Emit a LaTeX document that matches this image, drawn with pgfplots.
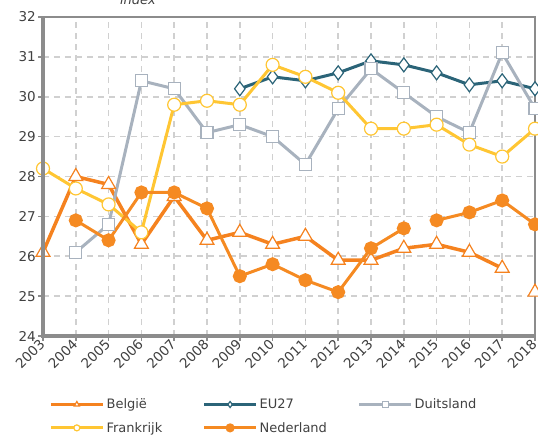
\documentclass[border=0pt]{standalone}
\usepackage{pgfplots}
\pgfplotsset{compat=1.18}
\usepackage{fontspec}
\setmainfont{DejaVu Sans}
\definecolor{cBE}{HTML}{F5821F}
\definecolor{cNL}{HTML}{F58A22}
\definecolor{cEU}{HTML}{2B6478}
\definecolor{cDE}{HTML}{A8B2BE}
\definecolor{cFR}{HTML}{FFC633}
\definecolor{axgray}{HTML}{8C8C8C}
\definecolor{gridgray}{HTML}{D0D0D0}
\definecolor{txt}{HTML}{404040}
\begin{document}
\begin{tikzpicture}
\begin{axis}[
  at={(0pt,0pt)}, anchor=south west,
  scale only axis, width=492pt, height=319pt,
  xmin=2003, xmax=2018, ymin=24, ymax=32,
  xtick={2003,2004,...,2018}, ytick={24,25,...,32},
  /pgf/number format/assume math mode=true,
  /pgf/number format/set thousands separator={},
  tick label style={font=\fontsize{13.5}{15}\selectfont, text=txt},
  xticklabel style={rotate=45, anchor=east, inner sep=1pt},
  yticklabel style={inner sep=2pt},
  xtick pos=left, ytick pos=left, tick align=outside,
  major tick length=5pt,
  tick style={axgray, line width=1.5pt},
  axis line style={axgray, line width=1.5pt},
  grid=major,
  major grid style={gridgray, dash pattern=on 6pt off 5pt, line width=1.7pt},
  unbounded coords=jump,
  legend columns=3,
  legend cell align=left,
  legend style={draw=none, fill=none, at={(0.012,-0.19)}, anchor=north west,
    font=\fontsize{13}{15}\selectfont, text=txt, inner sep=0pt,
    /tikz/row sep=8pt,
    /tikz/column 2/.style={column sep=0pt},
    /tikz/column 4/.style={column sep=0pt}},
  legend image code/.code={\draw[mark repeat=2, mark phase=2, mark size=3pt] plot coordinates {(0pt,0pt) (26pt,0pt) (52pt,0pt)};},
  after end axis/.code={\draw[axgray, line width=3.5pt] (rel axis cs:0,1) -- (rel axis cs:0,0) -- (rel axis cs:1,0);},
]
\addplot[cBE, line width=3.5pt, mark=triangle*, mark size=8pt,
  mark options={solid, fill=white, draw=cBE, line width=1.2pt}] coordinates {
 (2003,26.1) (2004,28.0) (2005,27.8) (2006,26.3) (2007,27.5) (2008,26.4)
 (2009,26.6) (2010,26.3) (2011,26.5) (2012,25.9) (2013,25.9) (2014,26.2)
 (2015,26.3) (2016,26.1) (2017,25.7) (2017.5,nan) (2018,25.1)};
\addlegendentry{\makebox[94pt][l]{België}}
\addplot[cEU, line width=3pt, mark=diamond*, mark size=7pt,
  mark options={solid, fill=white, draw=cEU, line width=1.2pt}] coordinates {
 (2009,30.2) (2010,30.5) (2011,30.4) (2012,30.6) (2013,30.9) (2014,30.8)
 (2015,30.6) (2016,30.3) (2017,30.4) (2018,30.2)};
\addlegendentry{\makebox[96pt][l]{EU27}}
\addplot[cDE, line width=3pt, mark=square*, mark size=6pt,
  mark options={solid, fill=white, draw=cDE, line width=1.2pt}] coordinates {
 (2004,26.1) (2005,26.8) (2006,30.4) (2007,30.2) (2008,29.1) (2009,29.3)
 (2010,29.0) (2011,28.3) (2012,29.7) (2013,30.7) (2014,30.1) (2015,29.5)
 (2016,29.1) (2017,31.1) (2018,29.7)};
\addlegendentry{Duitsland}
\addplot[cFR, line width=3pt, mark=*, mark size=6.5pt,
  mark options={solid, fill=white, draw=cFR, line width=1.2pt}] coordinates {
 (2003,28.2) (2004,27.7) (2005,27.3) (2006,26.6) (2007,29.8) (2008,29.9)
 (2009,29.8) (2010,30.8) (2011,30.5) (2012,30.1) (2013,29.2) (2014,29.2)
 (2015,29.3) (2016,28.8) (2017,28.5) (2018,29.2)};
\addlegendentry{\makebox[94pt][l]{Frankrijk}}
\addplot[cNL, line width=3pt, mark=*, mark size=5.5pt,
  mark options={solid, fill=cNL, draw=cNL}] coordinates {
 (2004,26.9) (2005,26.4) (2006,27.6) (2007,27.6) (2008,27.2) (2009,25.5)
 (2010,25.8) (2011,25.4) (2012,25.1) (2013,26.2) (2014,26.7) (2014.5,nan)
 (2015,26.9) (2016,27.1) (2017,27.4) (2018,26.8)};
\addlegendentry{\makebox[96pt][l]{Nederland}}
\end{axis}
\node[anchor=base, font=\itshape\fontsize{13}{15}\selectfont, text=txt] at (95pt,331pt) {index};
\pgfresetboundingbox
\useasboundingbox (-43pt,-98pt) rectangle (495pt,336pt);
\end{tikzpicture}
\end{document}
